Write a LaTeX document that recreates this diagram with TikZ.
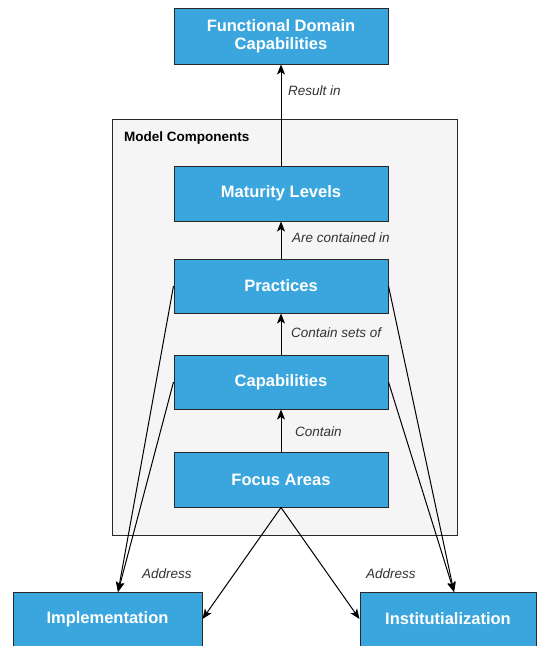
\documentclass[tikz,border=0pt]{standalone}
\usepackage{fontspec}
\setmainfont{Liberation Sans}
\usetikzlibrary{arrows.meta}
\definecolor{boxblue}{RGB}{59,166,222}
\definecolor{boxline}{RGB}{40,40,40}
\definecolor{panel}{RGB}{245,245,245}
\begin{document}
\begin{tikzpicture}[x=1pt,y=-1pt,
  bluebox/.style={draw=boxline,line width=1pt,fill=boxblue,text=white,
    font=\bfseries\fontsize{16.5}{19}\selectfont,align=center,
    minimum width=214pt,minimum height=55pt,inner sep=0pt},
  edgelabel/.style={font=\itshape\fontsize{13.5}{16}\selectfont,text=black!80,anchor=west,inner sep=0pt},
  conn/.style={draw=black,line width=1pt,-{Stealth[length=10pt,width=8pt,inset=2.5pt]}}]
\useasboundingbox (0,0) rectangle (537,646);
\fill[white] (0,0) rectangle (537,646);

% container for the model components
\node[draw=boxline,line width=1pt,fill=panel,minimum width=345pt,minimum height=416pt,inner sep=0pt]
  (panel) at (284.5,327) {};
\node[anchor=west,inner sep=0pt,font=\bfseries\fontsize{13.5}{16}\selectfont] (paneltitle) at (124,138) {Model Components};

% boxes
\node[bluebox,minimum height=56pt] (fdc) at (281,36) {Functional Domain\\[-1pt]Capabilities};
\node[bluebox] (ml) at (281,193.5) {Maturity Levels};
\node[bluebox,minimum height=54pt] (pr) at (281,286) {Practices};
\node[bluebox,minimum height=54pt] (cap) at (281,382) {Capabilities};
\node[bluebox] (fa) at (281,479.5) {Focus Areas};
\node[bluebox,minimum width=189pt,minimum height=54pt] (impl) at (107.5,619) {Implementation};
\node[bluebox,minimum width=176pt,minimum height=54pt] (inst) at (448,619) {Institutialization};

% hierarchy connectors
\draw[conn] (ml.north) -- (fdc.south);
\draw[conn] (pr.north) -- (ml.south);
\draw[conn] (cap.north) -- (pr.south);
\draw[conn] (fa.north) -- (cap.south);

\node[edgelabel] (l1) at (288,91) {Result in};
\node[edgelabel] (l2) at (292,238) {Are contained in};
\node[edgelabel] (l3) at (291,333) {Contain sets of};
\node[edgelabel] (l4) at (295,432) {Contain};

% address connectors
\coordinate (implin) at (118,592);
\coordinate (instin) at (454,592);
\draw[conn] (pr.west) -- (implin);
\draw[conn] (cap.west) -- (implin);
\draw[conn] (pr.east) -- (instin);
\draw[conn] (cap.east) -- (instin);
\draw[conn] (fa.south) -- (impl.east);
\draw[conn] (fa.south) -- (inst.west);

\node[edgelabel] (a1) at (142,574) {Address};
\node[edgelabel] (a2) at (366,574) {Address};
\end{tikzpicture}
\end{document}
